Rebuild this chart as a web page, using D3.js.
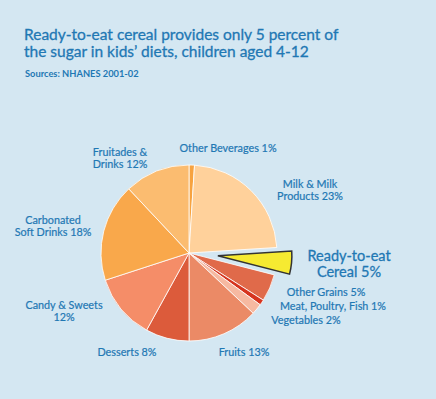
<!DOCTYPE html>
<html>
<head>
<meta charset="utf-8">
<script src="https://cdn.jsdelivr.net/npm/d3@7"></script>
<style>
  html, body { margin: 0; padding: 0; background: #d4e7f2; }
  text { font-family: Lato, "Open Sans", sans-serif; }
</style>
</head>
<body>
<div id="container"></div>
<script>
/* CONSTANTS AND GLOBALS */
const width = 436;
const height = 399;
const center = { x: 189, y: 253 };
const radius = 88;

/* DATA */
// clockwise from 12 o'clock
const categories = ["Other Beverages", "Milk & Milk Products", "Ready-to-eat Cereal", "Other Grains",
  "Meat, Poultry, Fish", "Vegetables", "Fruits", "Desserts", "Candy & Sweets",
  "Carbonated Soft Drinks", "Fruitades & Drinks"];
const values = [1, 23, 5, 5, 1, 2, 13, 8, 12, 18, 12];
const labelLines = [
  ["Other Beverages 1%"],
  ["Milk & Milk", "Products 23%"],
  ["Ready-to-eat", "Cereal 5%"],
  ["Other Grains 5%"],
  ["Meat, Poultry, Fish 1%"],
  ["Vegetables 2%"],
  ["Fruits 13%"],
  ["Desserts 8%"],
  ["Candy & Sweets", "12%"],
  ["Carbonated", "Soft Drinks 18%"],
  ["Fruitades &", "Drinks 12%"]
];
const colors = ["#f7a340", "#ffd19b", "#f6ea31", "#e06a4a", "#d6351f", "#f6b9a1",
  "#eb8a66", "#dc5b3b", "#f58d68", "#f9a84b", "#fbbc70"];
// label centre relative to pie centre
const labelOffsets = [[39, -105], [121, -63], [160, 11], [137, 39], [144, 53], [117, 67],
  [55, 99], [-62, 99], [-125, 58], [-136, -27], [-69, -95]];
const highlight = "Ready-to-eat Cereal";

const svg = d3.select("#container")
  .append("svg")
  .attr("width", width)
  .attr("height", height);

svg.append("rect")
  .attr("width", width)
  .attr("height", height)
  .attr("fill", "#d4e7f2");

/* TITLE */
svg.append("text")
  .attr("x", 24).attr("y", 40)
  .attr("fill", "#1f78b4")
  .attr("font-size", 15.5)
  .attr("stroke", "#1f78b4")
  .attr("stroke-width", 0.3)
  .text("Ready-to-eat cereal provides only 5 percent of");
svg.append("text")
  .attr("x", 24).attr("y", 57)
  .attr("fill", "#1f78b4")
  .attr("font-size", 15.5)
  .attr("stroke", "#1f78b4")
  .attr("stroke-width", 0.3)
  .text("the sugar in kids\u2019 diets, children aged 4-12");
svg.append("text")
  .attr("x", 25).attr("y", 77)
  .attr("fill", "#1f78b4")
  .attr("font-size", 9.3)
  .attr("font-weight", "bold")
  .text("Sources: NHANES 2001-02");

/* PIE */
const data = categories.map((c, i) => ({ name: c, value: values[i], color: colors[i], lines: labelLines[i], off: labelOffsets[i] }));

const pie = d3.pie().value(d => d.value).sort(null);
const arcs = pie(data);
const arc = d3.arc().innerRadius(0).outerRadius(radius);
const explodedArc = d3.arc().innerRadius(0).outerRadius(74);

const g = svg.append("g").attr("transform", `translate(${center.x},${center.y})`);

g.selectAll(".slice")
  .data(arcs.filter(d => d.data.name !== highlight))
  .join("path")
  .attr("class", "slice")
  .attr("d", arc)
  .attr("fill", d => d.data.color)
  .attr("stroke", "#ffffff")
  .attr("stroke-width", 0.8);

// pulled-out cereal slice
const cereal = arcs.find(d => d.data.name === highlight);
const mid = (cereal.startAngle + cereal.endAngle) / 2;
const pull = 29;
g.append("path")
  .attr("d", explodedArc(cereal))
  .attr("transform", `translate(${Math.sin(mid) * pull},${-Math.cos(mid) * pull})`)
  .attr("fill", cereal.data.color)
  .attr("stroke", "#333333")
  .attr("stroke-width", 1.5)
  .attr("stroke-linejoin", "miter");

/* LABELS */
const labels = g.selectAll(".label")
  .data(arcs)
  .join("text")
  .attr("class", "label")
  .attr("text-anchor", "middle")
  .attr("fill", "#1f78b4")
  .attr("stroke", "#1f78b4")
  .attr("stroke-width", d => d.data.name === highlight ? 0.3 : 0.2)
  .attr("font-size", d => d.data.name === highlight ? 14.5 : 10.8)
  .attr("transform", d => `translate(${d.data.off[0]},${d.data.off[1]})`);

labels.each(function(d) {
  const n = d.data.lines.length;
  const lh = d.data.name === highlight ? 16 : 12;
  d3.select(this).selectAll("tspan")
    .data(d.data.lines)
    .join("tspan")
    .attr("x", 0)
    .attr("y", (l, i) => (i - (n - 1) / 2) * lh)
    .attr("dy", "0.35em")
    .text(l => l);
});
</script>
</body>
</html>
